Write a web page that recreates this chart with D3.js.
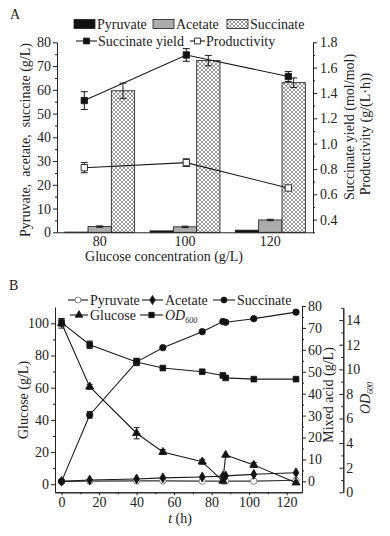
<!doctype html>
<html lang="en">
<head>
<meta charset="utf-8">
<title>Succinate production</title>
<script src="https://cdn.jsdelivr.net/npm/d3@7"></script>
<style>
  body { margin: 0; background: #fff; }
  svg { font-family: "Liberation Serif", "Times New Roman", serif; }
  .axis path, .axis line { stroke: #222; stroke-width: 1; }
  .axis text { font-family: "Liberation Serif", serif; font-size: 14px; fill: #222; }
  .lbl { font-size: 14px; fill: #222; }
</style>
</head>
<body>
<svg id="chart" width="390" height="536"></svg>
<script>
// ---- panel A data ----
var glucoseConc = [80, 100, 120];
var acids = ["Pyruvate", "Acetate", "Succinate"];
var pyruvateA = [0.1, 0.6, 0.9];
var acetateA = [2.4, 2.3, 5.2];
var acetateErrA = [0.3, 0.3, 0.3];
var succinateA = [59.6, 72.3, 63.0];
var succinateErrA = [3.2, 2.2, 2.0];
var yieldA = [1.34, 1.70, 1.53];
var yieldErrA = [0.07, 0.05, 0.04];
var prodA = [0.81, 0.85, 0.65];
var prodErrA = [0.04, 0.03, 0.01];

// ---- panel B data ----
var timeB = [0, 15, 40, 54, 75, 86, 87.5, 102.5, 125];
var glucoseB = [100, 60.6, 31.7, 20, 14, 2, 18.2, 12, 1];
var glucoseErrB = [3, 1.5, 3.5, 1.5, 1.5, 0, 0, 1.5, 0];
var succinateB = [0, 30.3, 54.5, 61, 68.3, 72.9, 72.6, 74.2, 77.2];
var succinateErrB = [0.5, 1.5, 1.5, 0, 0, 0, 0, 0, 0];
var acetateB = [0, 0.6, 1.1, 1.6, 2.0, 2.4, 2.5, 3.2, 3.9];
var pyruvateB = [0, 0.1, 0.2, 0.2, 0.1, 0.1, 0.1, 0.1, 0.5];
var odB = [13.8, 12.0, 10.6, 10.1, 9.8, 9.5, 9.3, 9.2, 9.2];
var odErrB = [0.3, 0.3, 0.3, 0, 0, 0, 0, 0, 0];

var svg = d3.select("#chart");
var ink = "#1a1a1a";

// crosshatch fill for succinate bars
var pat = svg.append("defs").append("pattern")
    .attr("id", "hatch").attr("patternUnits", "userSpaceOnUse")
    .attr("width", 4).attr("height", 4);
pat.append("rect").attr("width", 4).attr("height", 4).attr("fill", "#fff");
pat.append("path").attr("d", "M0,0L4,4M4,0L0,4").attr("stroke", "#555").attr("stroke-width", 0.6);

function errBars(g, xs, ys, es, yScale, cap) {
    var d = d3.range(xs.length).filter(function(i) { return es[i] > 0; });
    var sel = g.append("g").attr("stroke", ink).attr("stroke-width", 1)
        .selectAll("g").data(d).enter().append("g");
    sel.append("line")
        .attr("x1", function(i) { return xs[i]; }).attr("x2", function(i) { return xs[i]; })
        .attr("y1", function(i) { return yScale(ys[i] - es[i]); })
        .attr("y2", function(i) { return yScale(ys[i] + es[i]); });
    [-1, 1].forEach(function(s) {
        sel.append("line")
            .attr("x1", function(i) { return xs[i] - cap; }).attr("x2", function(i) { return xs[i] + cap; })
            .attr("y1", function(i) { return yScale(ys[i] + s * es[i]); })
            .attr("y2", function(i) { return yScale(ys[i] + s * es[i]); });
    });
}

function marker(type, size) { return d3.symbol().type(type).size(size)(); }

// =================== Panel A ===================
var A = {left: 57, right: 313, top: 42.3, bottom: 232.3};
var xA = d3.scaleBand().domain(glucoseConc).range([A.left, A.right]).paddingInner(0.18).paddingOuter(0.09);
var xSub = d3.scaleBand().domain(acids).range([0, xA.bandwidth()]);
var xLineA = d3.scaleLinear().domain([80, 120]).range([84.3, 288.3]);
var yA = d3.scaleLinear().domain([0, 80]).range([A.bottom, A.top]);
var yA2 = d3.scaleLinear().domain([0.3, 1.8]).range([A.bottom, A.top]);

var gA = svg.append("g");

var barSeries = [
    {name: "Pyruvate", vals: pyruvateA, errs: null, fill: "#111"},
    {name: "Acetate", vals: acetateA, errs: acetateErrA, fill: "#acacac"},
    {name: "Succinate", vals: succinateA, errs: succinateErrA, fill: "url(#hatch)"}
];
barSeries.forEach(function(s) {
    gA.append("g").selectAll("rect").data(glucoseConc).enter().append("rect")
        .attr("x", function(c) { return xA(c) + xSub(s.name); })
        .attr("width", xSub.bandwidth())
        .attr("y", function(c, i) { return yA(s.vals[i]); })
        .attr("height", function(c, i) { return A.bottom - yA(s.vals[i]); })
        .attr("fill", s.fill).attr("stroke", ink).attr("stroke-width", 0.8);
    if (s.errs) {
        var xs = glucoseConc.map(function(c) { return xA(c) + xSub(s.name) + xSub.bandwidth() / 2; });
        errBars(gA, xs, s.vals, s.errs, yA, 3.5);
    }
});

// lines on right axis
var xsLine = glucoseConc.map(function(c) { return xLineA(c); });
[{vals: yieldA, errs: yieldErrA, fill: "#111"}, {vals: prodA, errs: prodErrA, fill: "#fff"}].forEach(function(s) {
    gA.append("path")
        .attr("d", d3.line().x(function(d, i) { return xsLine[i]; }).y(function(d) { return yA2(d); })(s.vals))
        .attr("fill", "none").attr("stroke", ink).attr("stroke-width", 1.1);
    errBars(gA, xsLine, s.vals, s.errs, yA2, 3.5);
    gA.append("g").selectAll("path").data(s.vals).enter().append("path")
        .attr("d", marker(d3.symbolSquare, 40))
        .attr("transform", function(d, i) { return "translate(" + xsLine[i] + "," + yA2(d) + ")"; })
        .attr("fill", s.fill).attr("stroke", ink).attr("stroke-width", 0.9);
});

// axes A
gA.append("g").attr("class", "axis").attr("transform", "translate(" + A.left + ",0)")
    .call(d3.axisLeft(yA).tickValues(d3.range(0, 81, 10)).tickSize(4).tickSizeOuter(0).tickPadding(2));
gA.append("g").attr("class", "axis").attr("transform", "translate(" + A.left + ",0)")
    .call(d3.axisLeft(yA).tickValues(d3.range(5, 80, 10)).tickSize(2).tickSizeOuter(0).tickFormat(""));
gA.append("g").attr("class", "axis").attr("transform", "translate(" + A.right + ",0)")
    .call(d3.axisRight(yA2).tickValues([0.4, 0.6, 0.8, 1.0, 1.2, 1.4, 1.6, 1.8]).tickFormat(d3.format(".1f"))
        .tickSize(4).tickSizeOuter(0).tickPadding(3));
gA.append("g").attr("class", "axis").attr("transform", "translate(" + A.right + ",0)")
    .call(d3.axisRight(yA2).tickValues([0.3, 0.5, 0.7, 0.9, 1.1, 1.3, 1.5, 1.7]).tickSize(2).tickSizeOuter(0).tickFormat(""));
var xAxisA = gA.append("g").attr("class", "axis").attr("transform", "translate(0," + A.bottom + ")")
    .call(d3.axisBottom(xA).tickSize(0).tickPadding(4));
xAxisA.selectAll("line").remove();

gA.append("text").attr("class", "lbl").attr("x", 10).attr("y", 19).text("A");
gA.append("text").attr("class", "lbl").attr("x", 164).attr("y", 261).attr("text-anchor", "middle")
    .text("Glucose concentration (g/L)");
gA.append("text").attr("class", "lbl").attr("transform", "translate(30,140) rotate(-90)")
    .attr("text-anchor", "middle").style("white-space", "pre").text("Pyruvate,  acetate,  succinate (g/L)");
gA.append("text").attr("class", "lbl").attr("transform", "translate(354,127) rotate(-90)")
    .attr("text-anchor", "middle").text("Succinate yield (mol/mol)");
gA.append("text").attr("class", "lbl").attr("transform", "translate(370,134) rotate(-90)")
    .attr("text-anchor", "middle").text("Productivity (g/(L\u00b7h))");

// legend A
var legA = gA.append("g");
[{x: 74, fill: "#111", label: "Pyruvate"}, {x: 153, fill: "#acacac", label: "Acetate"},
 {x: 227, fill: "url(#hatch)", label: "Succinate"}].forEach(function(d) {
    legA.append("rect").attr("x", d.x).attr("y", 19.5).attr("width", 21).attr("height", 9)
        .attr("fill", d.fill).attr("stroke", ink).attr("stroke-width", 0.8);
    legA.append("text").attr("class", "lbl").attr("x", d.x + 23).attr("y", 29).text(d.label);
});
[{x1: 76, x2: 97, fill: "#111", label: "Succinate yield"}, {x1: 190, x2: 205, fill: "#fff", label: "Productivity"}]
    .forEach(function(d) {
    legA.append("line").attr("x1", d.x1).attr("x2", d.x2).attr("y1", 41).attr("y2", 41)
        .attr("stroke", ink).attr("stroke-width", 1.1);
    legA.append("path").attr("d", marker(d3.symbolSquare, 34))
        .attr("transform", "translate(" + ((d.x1 + d.x2) / 2) + ",41)")
        .attr("fill", d.fill).attr("stroke", ink).attr("stroke-width", 0.9);
    legA.append("text").attr("class", "lbl").attr("x", d.x2 + 1).attr("y", 46).text(d.label);
});

// =================== Panel B ===================
var B = {left: 55, right: 302, top: 307.2, bottom: 492.3};
var xB = d3.scaleLinear().domain([-3.5, 128.2]).range([B.left, B.right]);
var yB = d3.scaleLinear().domain([-5, 110]).range([B.bottom, B.top]);
var yAcid = d3.scaleLinear().domain([-5, 80]).range([B.bottom, 306]);
var yOD = d3.scaleLinear().domain([0, 15]).range([B.bottom, 307.8]);

var gB = svg.append("g");
var xsB = timeB.map(function(t) { return xB(t); });

var seriesB = [
    {vals: pyruvateB, errs: null, y: yAcid, sym: d3.symbolCircle, size: 32, fill: "#fff", stroke: "#777", line: "#333"},
    {vals: acetateB, errs: null, y: yAcid, sym: d3.symbolDiamond, size: 28, fill: "#111", stroke: ink, line: ink},
    {vals: succinateB, errs: succinateErrB, y: yAcid, sym: d3.symbolCircle, size: 32, fill: "#111", stroke: ink, line: ink},
    {vals: glucoseB, errs: glucoseErrB, y: yB, sym: d3.symbolTriangle, size: 28, fill: "#111", stroke: ink, line: ink},
    {vals: odB, errs: odErrB, y: yOD, sym: d3.symbolSquare, size: 32, fill: "#111", stroke: ink, line: ink}
];
seriesB.forEach(function(s) {
    gB.append("path")
        .attr("d", d3.line().x(function(d, i) { return xsB[i]; }).y(function(d) { return s.y(d); })(s.vals))
        .attr("fill", "none").attr("stroke", s.line).attr("stroke-width", 1.1);
    if (s.errs) errBars(gB, xsB, s.vals, s.errs, s.y, 3);
    gB.append("g").selectAll("path").data(s.vals).enter().append("path")
        .attr("d", marker(s.sym, s.size))
        .attr("transform", function(d, i) { return "translate(" + xsB[i] + "," + s.y(d) + ")"; })
        .attr("fill", s.fill).attr("stroke", s.stroke).attr("stroke-width", 0.9);
});

// axes B
gB.append("g").attr("class", "axis").attr("transform", "translate(0," + B.bottom + ")")
    .call(d3.axisBottom(xB).tickValues(d3.range(0, 121, 20)).tickSize(3).tickSizeOuter(0).tickPadding(2));
gB.append("g").attr("class", "axis").attr("transform", "translate(0," + B.bottom + ")")
    .call(d3.axisBottom(xB).tickValues(d3.range(10, 121, 20)).tickSize(2).tickSizeOuter(0).tickFormat(""));
gB.append("g").attr("class", "axis").attr("transform", "translate(" + B.left + ",0)")
    .call(d3.axisLeft(yB).tickValues(d3.range(0, 101, 20)).tickSize(4).tickSizeOuter(0).tickPadding(2));
gB.append("g").attr("class", "axis").attr("transform", "translate(" + B.left + ",0)")
    .call(d3.axisLeft(yB).tickValues(d3.range(10, 110, 20)).tickSize(2).tickSizeOuter(0).tickFormat(""));
gB.append("g").attr("class", "axis").attr("transform", "translate(" + B.right + ",0)")
    .call(d3.axisRight(yAcid).tickValues(d3.range(0, 81, 10)).tickSize(4).tickSizeOuter(0).tickPadding(2));
gB.append("g").attr("class", "axis").attr("transform", "translate(" + B.right + ",0)")
    .call(d3.axisRight(yAcid).tickValues(d3.range(5, 80, 10)).tickSize(2).tickSizeOuter(0).tickFormat(""));
gB.append("g").attr("class", "axis").attr("transform", "translate(343.3,0)")
    .call(d3.axisRight(yOD).tickValues(d3.range(0, 15, 2)).tickSizeInner(-4).tickSizeOuter(0).tickPadding(3));
gB.append("g").attr("class", "axis").attr("transform", "translate(343.3,0)")
    .call(d3.axisRight(yOD).tickValues(d3.range(1, 16, 2)).tickSizeInner(-2).tickSizeOuter(0).tickFormat(""));

gB.append("text").attr("class", "lbl").attr("x", 9).attr("y", 290).text("B");
var tLab = gB.append("text").attr("class", "lbl").attr("x", 180).attr("y", 523).attr("text-anchor", "middle");
tLab.append("tspan").style("font-style", "italic").text("t");
tLab.append("tspan").text(" (h)");
gB.append("text").attr("class", "lbl").attr("transform", "translate(28,400) rotate(-90)")
    .attr("text-anchor", "middle").text("Glucose (g/L)");
gB.append("text").attr("class", "lbl").attr("transform", "translate(333,395) rotate(-90)")
    .attr("text-anchor", "middle").text("Mixed acid (g/L)");
var odLab = gB.append("text").attr("class", "lbl").attr("transform", "translate(370,398) rotate(-90)")
    .attr("text-anchor", "middle");
odLab.append("tspan").style("font-style", "italic").text("OD");
odLab.append("tspan").attr("dy", 3).style("font-size", "8px").style("font-style", "italic").text("600");

// legend B
var legB = gB.append("g");
[
    {x1: 68, x2: 88, y: 300, s: seriesB[0], label: "Pyruvate"},
    {x1: 142, x2: 163, y: 300, s: seriesB[1], label: "Acetate"},
    {x1: 213, x2: 235, y: 300, s: seriesB[2], label: "Succinate"},
    {x1: 70, x2: 88, y: 315, s: seriesB[3], label: "Glucose"},
    {x1: 140, x2: 163, y: 315, s: seriesB[4], label: null}
].forEach(function(d) {
    legB.append("line").attr("x1", d.x1).attr("x2", d.x2).attr("y1", d.y).attr("y2", d.y)
        .attr("stroke", ink).attr("stroke-width", 1.1);
    legB.append("path").attr("d", marker(d.s.sym, d.s.size - 4))
        .attr("transform", "translate(" + ((d.x1 + d.x2) / 2) + "," + d.y + ")")
        .attr("fill", d.s.fill).attr("stroke", d.s.stroke).attr("stroke-width", 0.9);
    var t = legB.append("text").attr("class", "lbl").attr("x", d.x2 + 2).attr("y", d.y + 5);
    if (d.label) t.text(d.label);
    else {
        t.append("tspan").style("font-style", "italic").text("OD");
        t.append("tspan").attr("dy", 3).style("font-size", "8px").style("font-style", "italic").text("600");
    }
});
</script>
</body>
</html>
